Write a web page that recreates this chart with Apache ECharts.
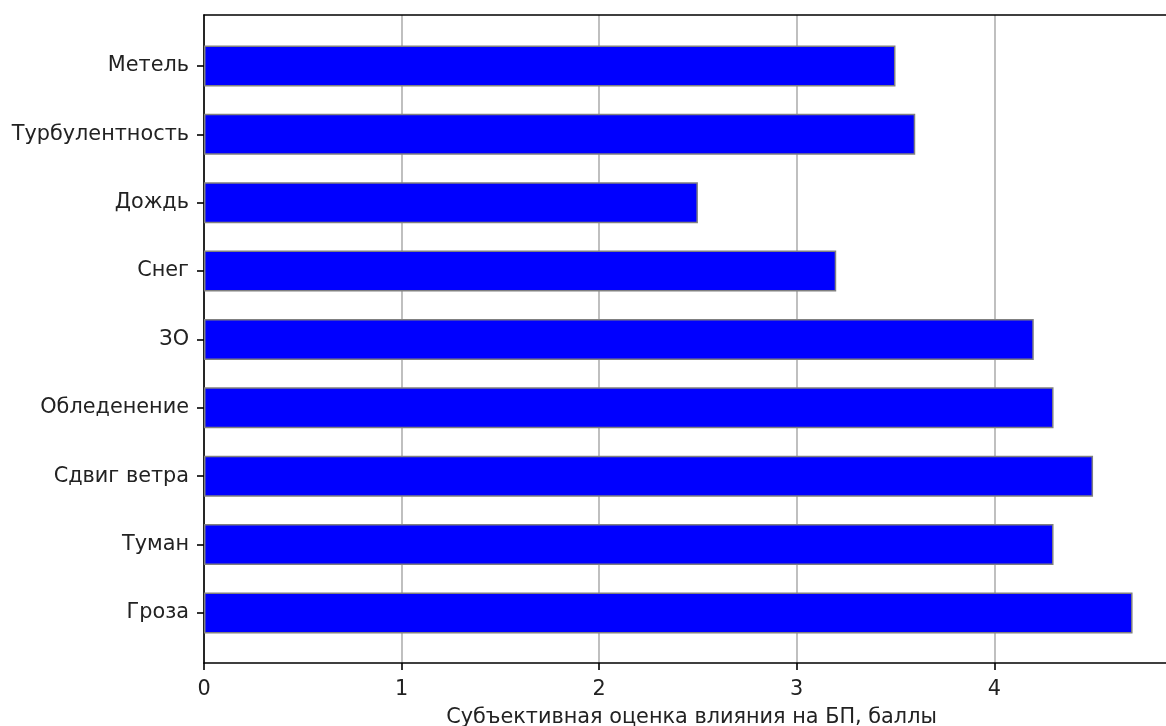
<!DOCTYPE html>
<html><head><meta charset="utf-8">
<script src="https://cdn.jsdelivr.net/npm/echarts@6/dist/echarts.min.js"></script>
<style>html,body{margin:0;padding:0;background:#fff}#c{width:1166px;height:726px}</style>
</head><body><div id="c"></div>
<script>
const categories = ['Гроза','Туман','Сдвиг ветра','Обледенение','ЗО','Снег','Дождь','Турбулентность','Метель'];
const values = [4.7, 4.3, 4.5, 4.3, 4.2, 3.2, 2.5, 3.6, 3.5];
const xTicks = [0, 1, 2, 3, 4];
const xLabel = 'Субъективная оценка влияния на БП, баллы';

const xMax = Math.max(...values) * 1.05;
const FONT = 'DejaVu Sans';
const fs = 20.8;
const lw = 1.6;
const chart = echarts.init(document.getElementById('c'), null, {renderer:'canvas'});
const fmt = v => xTicks.includes(v) ? String(v) : '';
chart.setOption({
  animation:false,
  textStyle:{fontFamily:FONT},
  grid:[
    {left:204, top:15, width:975, height:648, containLabel:false, outerBoundsMode:'none'},
    {left:204, top:31.8, width:975, height:615.3, containLabel:false, outerBoundsMode:'none'}
  ],
  xAxis:[
    {gridIndex:0, type:'value', min:0, max:xMax, interval:1, position:'bottom',
     name:xLabel, nameLocation:'middle', nameGap:44,
     nameTextStyle:{fontFamily:FONT, fontSize:fs, color:'#222', verticalAlign:'top'},
     axisLine:{show:true, lineStyle:{color:'#000', width:lw}},
     axisTick:{show:true, length:7, lineStyle:{color:'#000', width:lw}},
     axisLabel:{fontFamily:FONT, fontSize:fs, color:'#222', margin:16, formatter:fmt},
     splitLine:{show:true, lineStyle:{color:'#b0b0b0', width:lw}}},
    {gridIndex:0, type:'value', min:0, max:xMax, position:'top',
     axisLine:{show:true, lineStyle:{color:'#000', width:lw}},
     axisTick:{show:false}, axisLabel:{show:false}, splitLine:{show:false}},
    {gridIndex:1, type:'value', min:0, max:xMax, interval:1, show:false,
     splitLine:{show:false}}
  ],
  yAxis:[
    {gridIndex:0, type:'value', min:0, max:1, position:'left',
     axisLine:{show:true, lineStyle:{color:'#000', width:lw}},
     axisTick:{show:false}, axisLabel:{show:false}, splitLine:{show:false}},
    {gridIndex:1, type:'category', data:categories, position:'left',
     axisLine:{show:false},
     axisTick:{show:true, alignWithLabel:true, length:7, lineStyle:{color:'#000', width:lw}},
     axisLabel:{fontFamily:FONT, fontSize:fs, color:'#222', margin:15, padding:[3,0,0,0]},
     splitLine:{show:false}}
  ],
  series:[{
    type:'bar', xAxisIndex:2, yAxisIndex:1, data:values, barWidth:'60%',
    itemStyle:{color:'#0000ff', borderColor:'#808080', borderWidth:1.5},
    z:3
  }]
});
</script></body></html>
